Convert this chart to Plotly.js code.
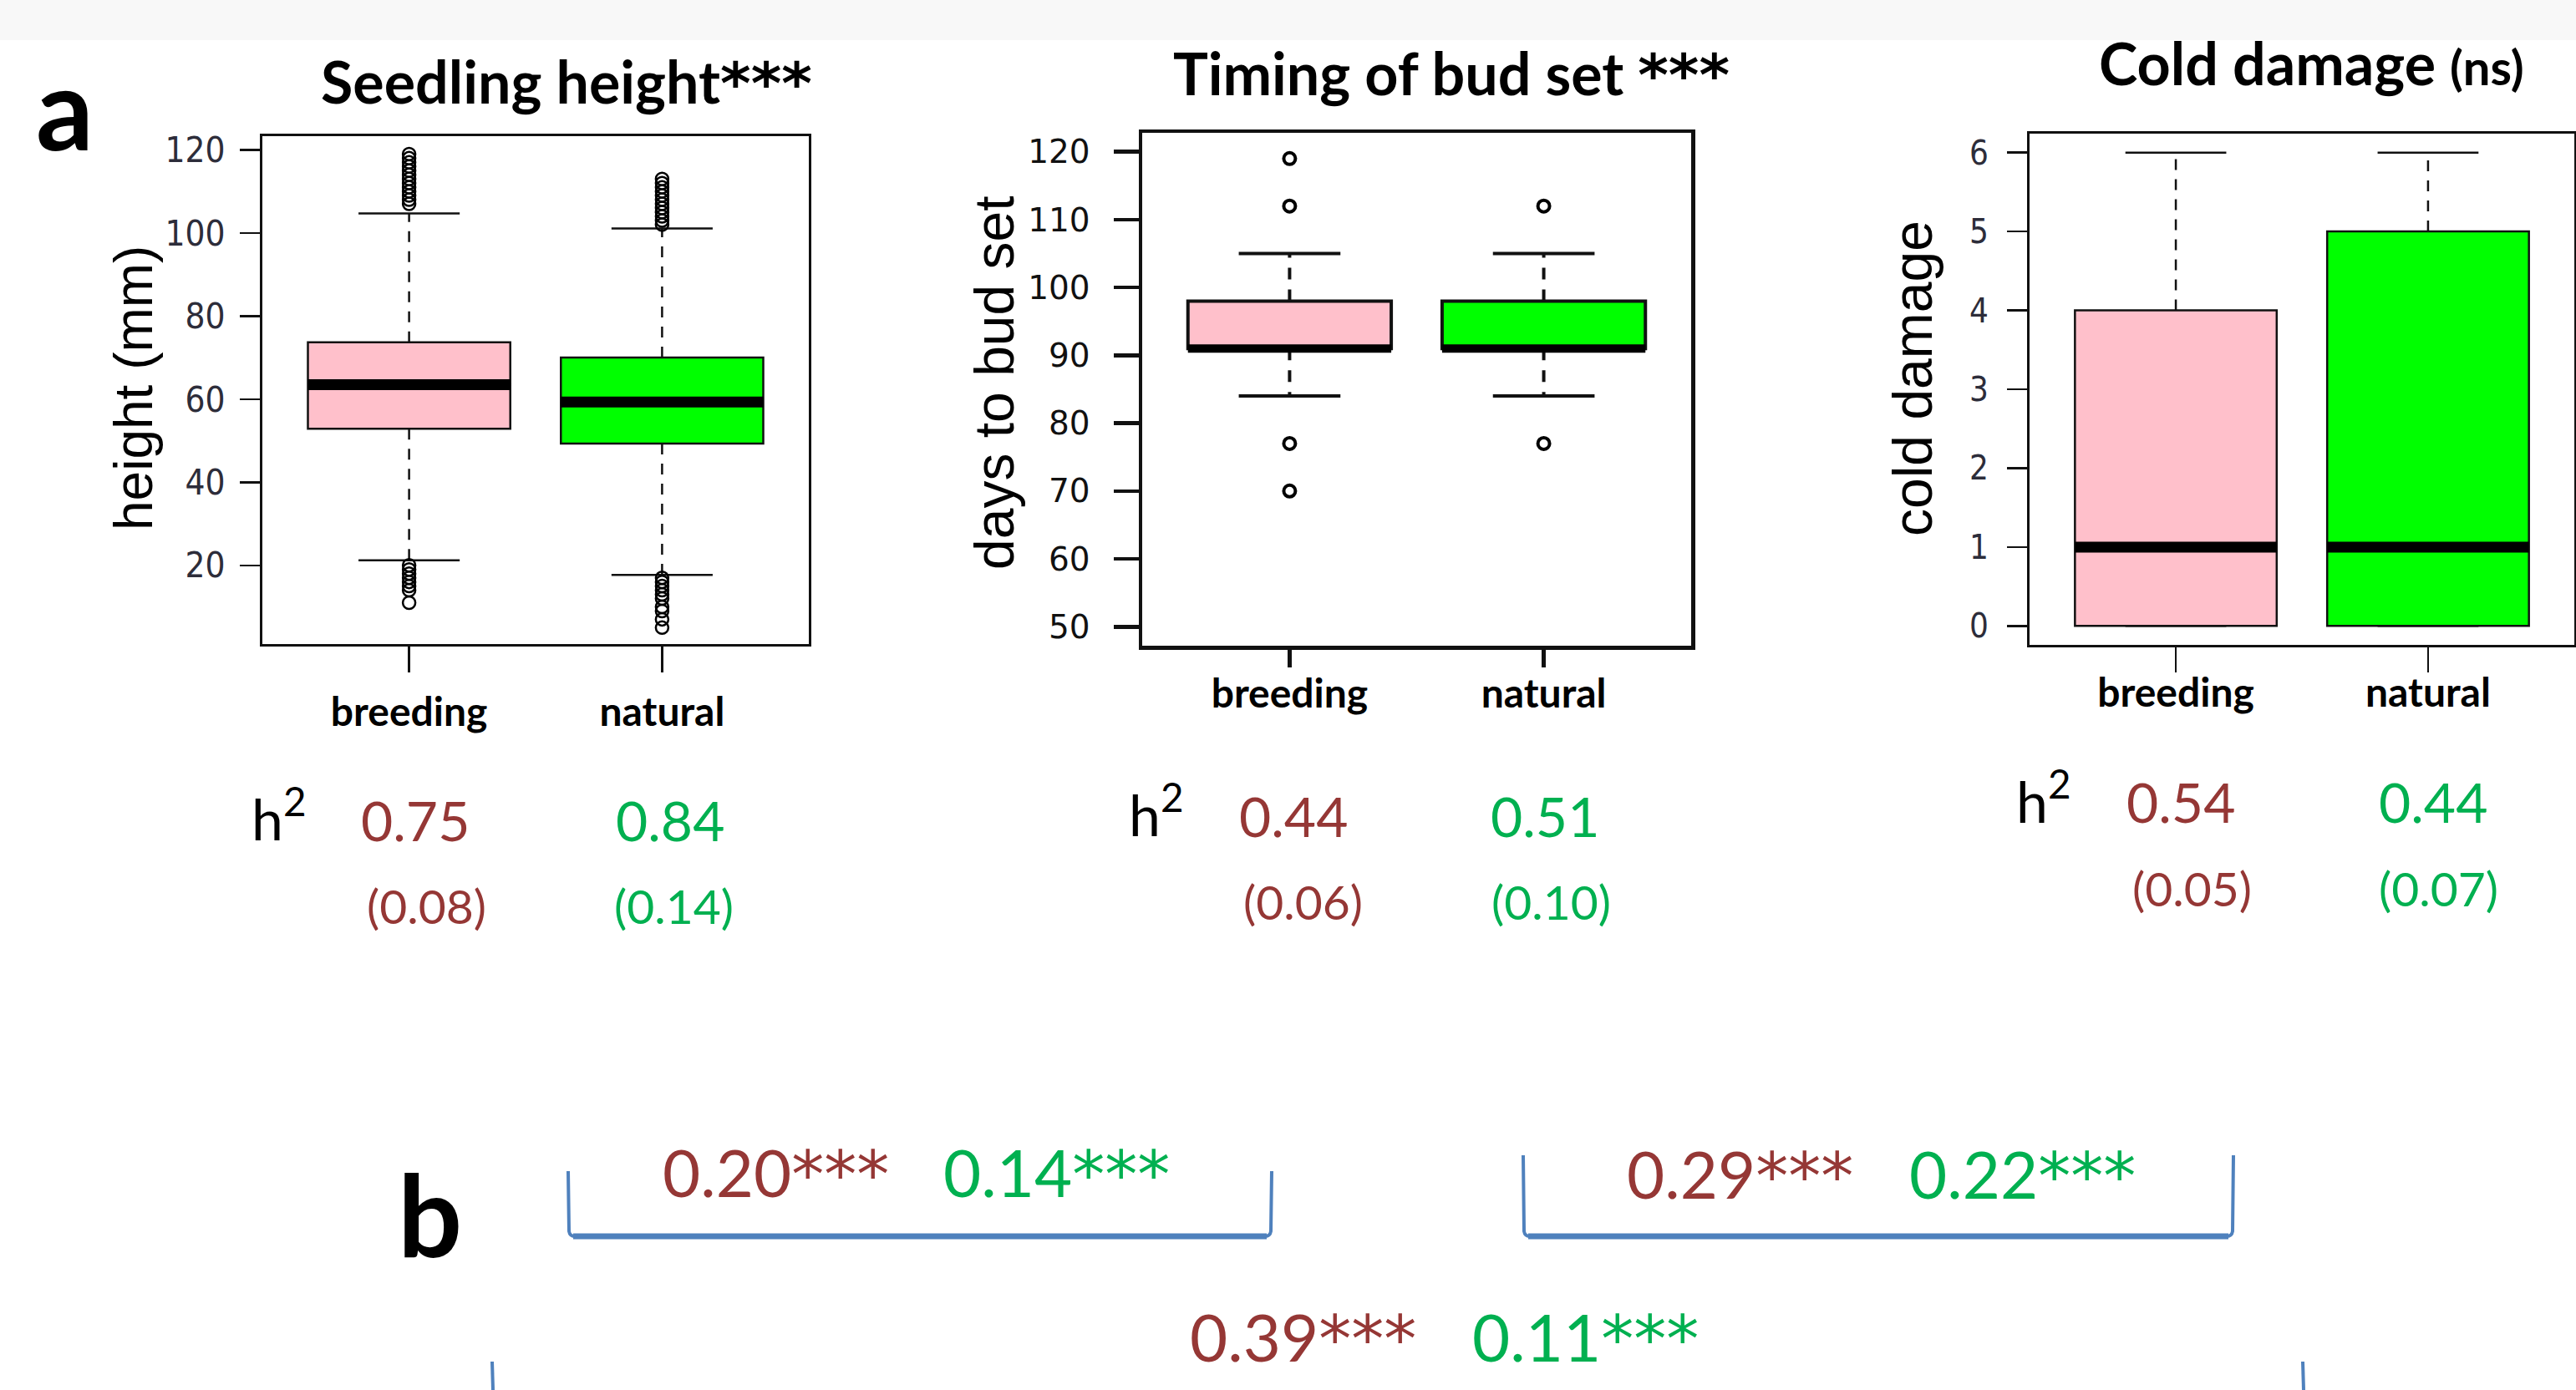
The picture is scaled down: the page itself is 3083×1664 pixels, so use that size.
<!DOCTYPE html>
<html>
<head>
<meta charset="utf-8">
<script src="https://cdn.plot.ly/plotly-3.0.1.min.js"></script>
<style>html,body{margin:0;padding:0;background:#fff;}#chart{width:3083px;height:1664px;}</style>
</head>
<body>
<div id="chart"></div>
<script>
// ---------- data ----------
const categories = ['breeding', 'natural'];

// Seedling height (mm)
const heightQ1 = [52.9, 49.3];
const heightMedian = [63.5, 59.3];
const heightQ3 = [73.7, 70.0];
const heightLowerWhisker = [21.2, 17.7];
const heightUpperWhisker = [104.7, 101.1];
const heightOutliersBreeding = [107, 108, 109, 110, 111, 112, 113, 114, 115, 116, 117, 118, 119, 20, 19, 18, 17, 16, 15, 14, 11];
const heightOutliersNatural = [102, 103, 104, 105, 106, 107, 108, 109, 110, 111, 112, 113, 17, 16, 15, 14, 13, 12, 10, 9, 7, 5];

// Timing of bud set (days)
const budQ1 = [91, 91];
const budMedian = [91, 91];
const budQ3 = [98, 98];
const budLowerWhisker = [84, 84];
const budUpperWhisker = [105, 105];
const budOutliersBreeding = [119, 112, 77, 70];
const budOutliersNatural = [112, 77];

// Cold damage (score)
const coldQ1 = [0, 0];
const coldMedian = [1, 1];
const coldQ3 = [4, 5];
const coldLowerWhisker = [0, 0];
const coldUpperWhisker = [6, 6];
const coldOutliersBreeding = [];
const coldOutliersNatural = [];

// heritability and standard errors
const h2Breeding = [0.75, 0.44, 0.54];
const h2Natural = [0.84, 0.51, 0.44];
const seBreeding = [0.08, 0.06, 0.05];
const seNatural = [0.14, 0.10, 0.07];

// genetic correlations (panel b)
const corrBreeding = [0.20, 0.29, 0.39];
const corrNatural = [0.14, 0.22, 0.11];
const corrSig = ['***', '***', '***'];

const panelTitles = ['Seedling height', 'Timing of bud set ', 'Cold damage '];
const panelSig = ['***', '***', '(ns)'];
const yTitles = ['height (mm)', 'days to bud set', 'cold damage'];
const heightTicks = [20, 40, 60, 80, 100, 120];
const budTicks = [50, 60, 70, 80, 90, 100, 110, 120];
const coldTicks = [0, 1, 2, 3, 4, 5, 6];

// ---------- helpers ----------
const W = 3083, H = 1664;
const px = x => x / W;
const py = y => 1 - y / H;
const RED = '#953735', GREEN = '#00B050', BLUE = '#4F81BD';
const fills = ['#FFC0CB', '#00FF00'];
const star = s => s.indexOf('*') >= 0 ? '<span style="font-family:DejaVu Sans">' + s + '</span>' : '<span style="font-size:58px">' + s + '</span>';

const traces = [];
function addPanel(ax, q1, med, q3, lo, hi, outs, st) {
  const xa = 'x' + ax, ya = 'y' + ax;
  categories.forEach((c, i) => {
    traces.push({type: 'box', xaxis: xa, yaxis: ya, x: [i], q1: [q1[i]], median: [med[i]], q3: [q3[i]],
      lowerfence: [q1[i]], upperfence: [q3[i]], width: 0.8, whiskerwidth: 0, boxpoints: false,
      fillcolor: fills[i], line: {color: '#111', width: st.box}, hoverinfo: 'skip', name: c});
    traces.push({type: 'scatter', mode: 'lines', xaxis: xa, yaxis: ya,
      x: [i, i, null, i, i], y: [q3[i], hi[i], null, q1[i], lo[i]],
      line: {color: '#111', width: st.wh, dash: st.dash}, hoverinfo: 'skip'});
    traces.push({type: 'scatter', mode: 'lines', xaxis: xa, yaxis: ya,
      x: [i - 0.2, i + 0.2, null, i - 0.2, i + 0.2], y: [hi[i], hi[i], null, lo[i], lo[i]],
      line: {color: '#111', width: st.wh}, hoverinfo: 'skip'});
    traces.push({type: 'scatter', mode: 'lines', xaxis: xa, yaxis: ya,
      x: [i - 0.4, i + 0.4], y: [med[i], med[i]],
      line: {color: '#000', width: st.med}, hoverinfo: 'skip'});
    if (outs[i].length) traces.push({type: 'scatter', mode: 'markers', xaxis: xa, yaxis: ya,
      x: outs[i].map(() => i), y: outs[i],
      marker: {symbol: 'circle-open', size: st.ms, color: '#000', line: {width: st.mw, color: '#000'}}, hoverinfo: 'skip'});
  });
}
addPanel('', heightQ1, heightMedian, heightQ3, heightLowerWhisker, heightUpperWhisker,
  [heightOutliersBreeding, heightOutliersNatural], {box: 2.5, wh: 2.5, med: 13, dash: '13px,11px', ms: 15, mw: 2.5});
addPanel('2', budQ1, budMedian, budQ3, budLowerWhisker, budUpperWhisker,
  [budOutliersBreeding, budOutliersNatural], {box: 4, wh: 4, med: 10, dash: '14px,12px', ms: 14, mw: 4});
addPanel('3', coldQ1, coldMedian, coldQ3, coldLowerWhisker, coldUpperWhisker,
  [coldOutliersBreeding, coldOutliersNatural], {box: 2.5, wh: 2.5, med: 13, dash: '13px,11px', ms: 15, mw: 2.5});

const narrow = '"Liberation Sans Narrow", "DejaVu Sans Condensed", "Roboto Condensed", "Liberation Sans", sans-serif';
function xax(anchor, dom, lw, tw, tl, standoff) {
  return {anchor: anchor, domain: dom, range: [-0.58, 1.58], tickvals: [0, 1], ticktext: categories, ticks: 'outside',
    ticklen: tl, tickwidth: tw, tickcolor: '#111', showline: true, mirror: true, linecolor: '#111', linewidth: lw,
    showgrid: false, zeroline: false, fixedrange: true, ticklabelstandoff: standoff,
    tickfont: {family: 'Lato, sans-serif', size: 48, color: '#000', weight: 'bold'}};
}
function yax(anchor, dom, range, tv, font, lw, tw, tl, standoff) {
  return {anchor: anchor, domain: dom, range: range, tickvals: tv, ticks: 'outside', ticklen: tl, tickwidth: tw, tickcolor: '#111',
    showline: true, mirror: true, linecolor: '#111', linewidth: lw, showgrid: false, zeroline: false,
    fixedrange: true, tickfont: font, ticklabelstandoff: standoff};
}

const layout = {
  width: W, height: H, margin: {l: 0, r: 0, t: 0, b: 0}, showlegend: false,
  paper_bgcolor: '#fff', plot_bgcolor: '#fff',
  xaxis: xax('y', [px(314), px(968)], 3, 2.5, 31, 6),
  yaxis: yax('x', [py(771), py(163)], [1.05, 123.3], heightTicks, {family: narrow, size: 42, color: '#2d2d3a'}, 3, 2.5, 24, 9),
  xaxis2: xax('y2', [px(1367), px(2024)], 4.5, 4.5, 21, -9),
  yaxis2: yax('x2', [py(773), py(159)], [47.2, 122.8], budTicks, {family: '"DejaVu Sans", sans-serif', size: 39, color: '#111'}, 4.5, 4.5, 30, 20),
  xaxis3: xax('y3', [px(2429), px(3081)], 3, 2.5, 30, -17),
  yaxis3: yax('x3', [py(772), py(160)], [-0.24, 6.24], coldTicks, {family: narrow, size: 40, color: '#2d2d3a'}, 3, 2.5, 24, 14),
  shapes: [], annotations: []
};

// light band at the top of the picture
layout.shapes.push({type: 'rect', xref: 'paper', yref: 'paper', x0: 0, x1: 1, y0: py(48), y1: 1,
  fillcolor: '#f8f8f8', line: {width: 0}, layer: 'below'});

const A = layout.annotations;
function ann(text, x, y, font, extra) {
  A.push(Object.assign({xref: 'paper', yref: 'paper', x: px(x), y: py(y), text: text, showarrow: false,
    xanchor: 'center', yanchor: 'middle', font: font}, extra || {}));
}
const lato = (size, color, weight) => ({family: 'Lato, sans-serif', size: size, color: color || '#000', weight: weight || 'normal'});
const arial = size => ({family: '"Liberation Sans", Arial, sans-serif', size: size, color: '#000'});

// panel letters
ann('a', 77, 128, lato(136, '#000', 'bold'));
ann('b', 514, 1452, lato(136, '#000', 'bold'));

// titles
ann(panelTitles[0] + star(panelSig[0]), 678, 98, lato(70, '#000', 'bold'));
ann(panelTitles[1] + star(panelSig[1]), 1737, 88, lato(70, '#000', 'bold'));
ann(panelTitles[2] + star(panelSig[2]), 2766, 75, lato(70, '#000', 'bold'));

// y titles
ann(yTitles[0], 160, 465, arial(64), {textangle: -90});
ann(yTitles[1], 1190, 458, arial(66), {textangle: -90});
ann(yTitles[2], 2289, 453, arial(66), {textangle: -90});

// heritability rows
const hPos = [
  {h: 299, b: 497, n: 802, y: 981, sb: 510, sn: 806, sy: 1084},
  {h: 1349, b: 1548, n: 1849, y: 976, sb: 1560, sn: 1857, sy: 1079},
  {h: 2411, b: 2610, n: 2912, y: 960, sb: 2623, sn: 2918, sy: 1063}
];
hPos.forEach((p, k) => {
  ann('h<sup>2</sup>', p.h, p.y - 6, lato(68), {xanchor: 'left'});
  ann(h2Breeding[k].toFixed(2), p.b, p.y, lato(66, RED));
  ann(h2Natural[k].toFixed(2), p.n, p.y, lato(66, GREEN));
  ann('(' + seBreeding[k].toFixed(2) + ')', p.sb, p.sy, lato(57, RED));
  ann('(' + seNatural[k].toFixed(2) + ')', p.sn, p.sy, lato(57, GREEN));
});

// genetic correlations
const cPos = [
  {b: 928, n: 1264, y: 1403},
  {b: 2082, n: 2420, y: 1405},
  {b: 1560, n: 1898, y: 1600}
];
cPos.forEach((p, k) => {
  ann(corrBreeding[k].toFixed(2) + star(corrSig[k]), p.b, p.y, lato(78, RED));
  ann(corrNatural[k].toFixed(2) + star(corrSig[k]), p.n, p.y, lato(78, GREEN));
});

// brackets
function bracket(x0, x1, top, bottom) {
  const p = `M ${px(x0)} ${py(top)} L ${px(x0 + 1)} ${py(bottom - 6)} Q ${px(x0 + 2)} ${py(bottom)} ${px(x0 + 8)} ${py(bottom)} ` +
            `L ${px(x1 - 8)} ${py(bottom)} Q ${px(x1 - 2)} ${py(bottom)} ${px(x1 - 1)} ${py(bottom - 6)} L ${px(x1)} ${py(top)}`;
  layout.shapes.push({type: 'path', xref: 'paper', yref: 'paper', path: p, line: {color: BLUE, width: 4}});
  layout.shapes.push({type: 'line', xref: 'paper', yref: 'paper', x0: px(x0 + 6), x1: px(x1 - 6), y0: py(bottom), y1: py(bottom),
    line: {color: BLUE, width: 7}});
}
bracket(680, 1522, 1402, 1480);
bracket(1823, 2673, 1383, 1480);
[589, 2756].forEach(x => layout.shapes.push({type: 'line', xref: 'paper', yref: 'paper', x0: px(x), x1: px(x + 1),
  y0: py(1630), y1: 0, line: {color: BLUE, width: 4}}));

Plotly.newPlot('chart', traces, layout, {staticPlot: true, displayModeBar: false});
</script>
</body>
</html>
